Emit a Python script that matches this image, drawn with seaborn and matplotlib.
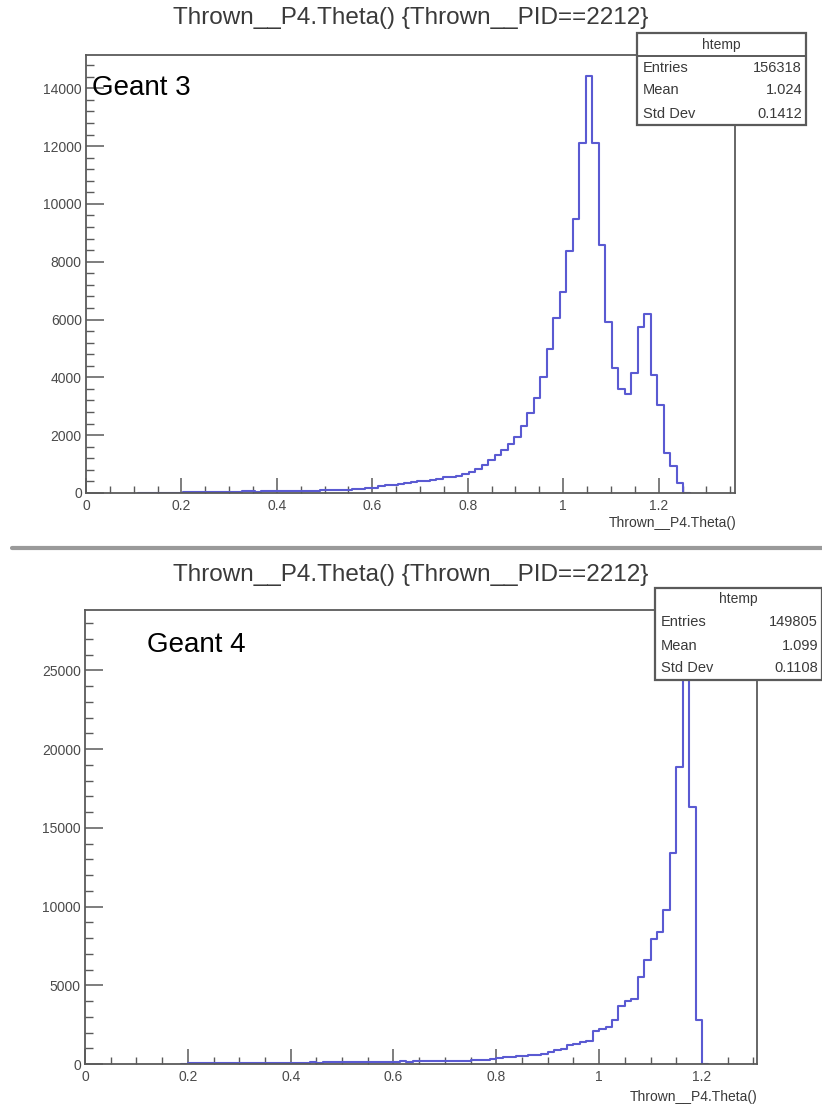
import numpy as np
import pandas as pd
import matplotlib
matplotlib.use("Agg")
import matplotlib.pyplot as plt
import seaborn as sns
from matplotlib.ticker import MultipleLocator
from matplotlib.patches import Rectangle

W, H = 822, 1110

title = "Thrown__P4.Theta() {Thrown__PID==2212}"
xtitle = "Thrown__P4.Theta()"
stat_names = ["Entries", "Mean", "Std Dev"]

# Geant 3: bins of 0.0136, counts start at bin 9
g3_width = 0.0136
g3_first_bin = 9
g3_counts = [10, 12, 10, 15, 14, 16, 18, 20, 22, 25,
             40, 45, 42, 48, 50, 52, 55, 50, 58, 60, 62,
             70, 72, 75, 80, 78, 85, 90, 95, 100, 105, 110, 140, 150, 165, 180,
             230, 260, 280, 310, 340, 370, 400, 420, 460, 500, 540, 560, 600, 640,
             720, 820, 960, 1140, 1320, 1500, 1680, 1940, 2320, 2780, 3280, 4020,
             4980, 6050, 6940, 8370, 9490, 12100, 14430, 12100, 8580, 5900, 4340,
             3590, 3420, 4150, 5740, 6180, 4070, 3040, 1400, 950, 360]
g3_stats = ["156318", "1.024", "0.1412"]

# Geant 4: bins of 0.0125, counts start at bin 16
g4_width = 0.0125
g4_first_bin = 16
g4_counts = [60, 50, 70, 40, 50, 60, 40, 50, 60, 50, 55, 60, 50, 65, 60, 70,
             80, 90, 80, 100, 90, 100, 110, 100, 110, 120, 110, 130, 120, 130, 140, 130,
             150, 160, 150, 170, 160, 170, 180, 190, 180, 200, 210, 220, 230, 240,
             260, 300, 400, 430, 460, 490, 540, 570, 600, 640, 780, 870, 930, 1180,
             1240, 1400, 1450, 2120, 2200, 2370, 2800, 3680, 4020, 4120, 5550, 6610,
             7950, 8410, 9780, 13390, 18890, 27470, 16350, 2800]
g4_stats = ["149805", "1.099", "0.1108"]

sns.set_style("white")
plt.rcParams["font.family"] = ["Liberation Sans", "DejaVu Sans"]

fig = plt.figure(figsize=(W / 100, H / 100), dpi=100)

line_color = "#5a5ad2"
frame_color = "#5a5a5a"
text_color = "#3a3a3a"
tick_text = "#4a4a4a"


def fig_rect(x0, y0, x1, y1):
    return [x0 / W, 1 - y1 / H, (x1 - x0) / W, (y1 - y0) / H]


def draw_panel(box, xmax, counts, width, first_bin, ymajor, yminor, label, label_xy,
               title_y, stats, stats_box, divider, xtitle_xy):
    ax = fig.add_axes(fig_rect(*box))
    # empty bin on each side so the outline drops back to zero like ROOT does
    padded = [0] + list(counts) + [0]
    edges = (first_bin - 1 + np.arange(len(padded) + 1)) * width
    df = pd.DataFrame({"theta": edges[:-1] + width / 2, "n": padded})
    sns.histplot(data=df, x="theta", weights="n", bins=list(edges), element="step",
                 fill=False, color=line_color, linewidth=1.5, ax=ax)
    ax.set_xlim(0, xmax)
    ax.set_ylim(0, max(counts) * 1.05)
    ax.set_xlabel(None)
    ax.set_ylabel(None)
    ax.xaxis.set_major_locator(MultipleLocator(0.2))
    ax.xaxis.set_minor_locator(MultipleLocator(0.05))
    ax.yaxis.set_major_locator(MultipleLocator(ymajor))
    ax.yaxis.set_minor_locator(MultipleLocator(yminor))
    ax.xaxis.set_major_formatter(matplotlib.ticker.FuncFormatter(lambda v, p: f"{v:g}"))
    ax.tick_params(axis="both", which="both", direction="in", colors=frame_color,
                   labelcolor=tick_text, labelsize=10, top=False, right=False,
                   bottom=True, left=True)
    ax.tick_params(axis="y", which="major", length=13, width=1.1, pad=3)
    ax.tick_params(axis="y", which="minor", length=6, width=1.0)
    ax.tick_params(axis="x", which="major", length=11, width=1.1, pad=4)
    ax.tick_params(axis="x", which="minor", length=5, width=1.0)
    for s in ax.spines.values():
        s.set_color(frame_color)
        s.set_linewidth(1.3)
    ax.grid(False)

    fig.text(label_xy[0] / W, 1 - label_xy[1] / H, label, fontsize=20,
             color="black", ha="left", va="center")
    fig.text(411 / W, 1 - title_y / H, title, fontsize=17.5, color=text_color,
             ha="center", va="center")
    fig.text(xtitle_xy[0] / W, 1 - xtitle_xy[1] / H, xtitle, fontsize=10,
             color=text_color, ha="right", va="center")

    # stats box
    bx0, by0, bx1, by1 = stats_box
    fig.patches.append(Rectangle((bx0 / W, 1 - by1 / H), (bx1 - bx0) / W, (by1 - by0) / H,
                                 transform=fig.transFigure, facecolor="white",
                                 edgecolor=frame_color, linewidth=1.6, zorder=5))
    rows = (by1 - by0) / 4
    fig.text((bx0 + bx1) / 2 / W, 1 - (by0 + rows * 0.5) / H, "htemp", fontsize=10,
             color=text_color, ha="center", va="center", zorder=6)
    if divider:
        fig.lines.append(plt.Line2D([bx0 / W, bx1 / W], [1 - (by0 + rows) / H] * 2,
                                    transform=fig.transFigure, color=frame_color,
                                    linewidth=1.4, zorder=6))
    for i, (name, val) in enumerate(zip(stat_names, stats)):
        yy = by0 + rows * (i + 1.5)
        fig.text((bx0 + 6) / W, 1 - yy / H, name, fontsize=10.5, color=text_color,
                 ha="left", va="center", zorder=6)
        fig.text((bx1 - 4) / W, 1 - yy / H, val, fontsize=10.5, color=text_color,
                 ha="right", va="center", zorder=6)
    return ax


draw_panel((86, 55, 735, 493), 1.36, g3_counts, g3_width, g3_first_bin, 2000, 400,
           "Geant 3", (92, 88), 18, g3_stats, (637, 33, 806, 125), True, (736, 523))
draw_panel((85, 610, 757, 1064), 1.307, g4_counts, g4_width, g4_first_bin, 5000, 1000,
           "Geant 4", (147, 645), 575, g4_stats, (655, 588, 822, 680), False, (757, 1097))

# separator between the two screenshots
fig.lines.append(plt.Line2D([12 / W, 1], [1 - 548 / H] * 2, transform=fig.transFigure,
                            color="#9a9a9a", linewidth=3))

fig.savefig("out.png", dpi=100)
